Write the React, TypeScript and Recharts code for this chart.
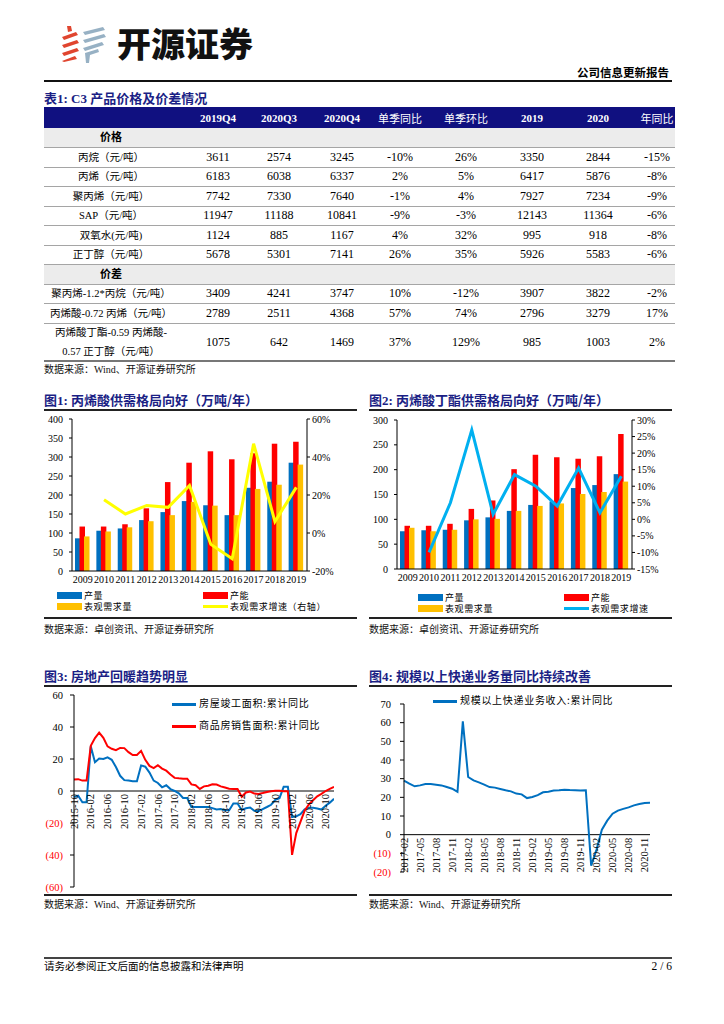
import React from 'react';
import { ComposedChart, Bar, Line, XAxis, YAxis, ReferenceLine } from 'recharts';

const SERIF = "'Liberation Serif', 'Times New Roman', 'Noto Sans CJK SC', serif";
const CJK = "'Noto Sans CJK SC', 'Noto Sans', sans-serif";
const NAVY = '#1b1f85';
const TABLE_HEAD = '#101080';
const BLUE = '#0070C0';
const RED = '#FF0000';
const ORANGE = '#FFC000';

// ---- 表1 ----
const tableHeaders = ['2019Q4', '2020Q3', '2020Q4', '单季同比', '单季环比', '2019', '2020', '年同比'];
const priceLabels = ['丙烷（元/吨）', '丙烯（元/吨）', '聚丙烯（元/吨）', 'SAP（元/吨）', '双氧水(元/吨)', '正丁醇（元/吨）'];
const priceValues = [
  ['3611', '2574', '3245', '-10%', '26%', '3350', '2844', '-15%'],
  ['6183', '6038', '6337', '2%', '5%', '6417', '5876', '-8%'],
  ['7742', '7330', '7640', '-1%', '4%', '7927', '7234', '-9%'],
  ['11947', '11188', '10841', '-9%', '-3%', '12143', '11364', '-6%'],
  ['1124', '885', '1167', '4%', '32%', '995', '918', '-8%'],
  ['5678', '5301', '7141', '26%', '35%', '5926', '5583', '-6%'],
];
const spreadLabels = ['聚丙烯-1.2*丙烷（元/吨）', '丙烯酸-0.72 丙烯（元/吨）', '丙烯酸丁酯-0.59 丙烯酸-\n0.57 正丁醇（元/吨）'];
const spreadValues = [
  ['3409', '4241', '3747', '10%', '-12%', '3907', '3822', '-2%'],
  ['2789', '2511', '4368', '57%', '74%', '2796', '3279', '17%'],
  ['1075', '642', '1469', '37%', '129%', '985', '1003', '2%'],
];

// ---- 图1 丙烯酸 ----
const years = ['2009', '2010', '2011', '2012', '2013', '2014', '2015', '2016', '2017', '2018', '2019'];
const aaOutput = [86, 106, 112, 134, 155, 184, 173, 147, 219, 235, 285];
const aaCapacity = [117, 117, 123, 165, 234, 285, 315, 294, 310, 335, 340];
const aaDemand = [91, 104, 115, 131, 147, 182, 172, 147, 216, 227, 280];
const aaGrowth = [null, 17.5, 10, 14.5, 13.5, 25, -6, -13.5, 47, 6, 24];

// ---- 图2 丙烯酸丁酯 ----
const baOutput = [76, 78, 79, 98, 104, 117, 129, 136, 163, 169, 191];
const baCapacity = [87, 87, 91, 121, 138, 201, 230, 225, 222, 227, 272];
const baDemand = [83, 76, 79, 100, 101, 117, 127, 132, 151, 155, 176];
const baGrowth = [null, -10, 5, 27, 1.5, 13.5, 10, 4, 15.5, 2, 13];

// ---- 图3 房地产 ----
const estateMonths = [
  '2015-10', '2015-11', '2015-12',
  '2016-01', '2016-02', '2016-03', '2016-04', '2016-05', '2016-06', '2016-07', '2016-08', '2016-09', '2016-10', '2016-11', '2016-12',
  '2017-01', '2017-02', '2017-03', '2017-04', '2017-05', '2017-06', '2017-07', '2017-08', '2017-09', '2017-10', '2017-11', '2017-12',
  '2018-01', '2018-02', '2018-03', '2018-04', '2018-05', '2018-06', '2018-07', '2018-08', '2018-09', '2018-10', '2018-11', '2018-12',
  '2019-01', '2019-02', '2019-03', '2019-04', '2019-05', '2019-06', '2019-07', '2019-08', '2019-09', '2019-10', '2019-11', '2019-12',
  '2020-01', '2020-02', '2020-03', '2020-04', '2020-05', '2020-06', '2020-07', '2020-08', '2020-09', '2020-10', '2020-11', '2020-12',
];
const completedArea = [
  -3.8, -3, -7,
  -7, 28, 18, 20.3, 20, 21, 19.5, 15, 9.5, 6.8, 6.5, 6.1,
  6.1, 16, 15.2, 11.5, 6.5, 5, 2.3, 3.6, 1.2, 0, -1.5, -4.4,
  -4.4, -10, -10, -10, -10, -10, -10.7, -11.5, -11.3, -12, -12, -7.8,
  -7.8, -11.9, -10.8, -10.3, -12.4, -12.7, -11.3, -10, -8.6, -5.5, -4.5, 2.6,
  2.6, -16.3, -15.8, -14.5, -11.5, -10.5, -10.5, -11, -11.6, -9.2, -7.3, -4.9,
];
const salesArea = [
  7.2, 7.4, 6.5,
  6.5, 28.2, 33.1, 36.5, 33.2, 27.9, 26.4, 25.5, 26.9, 26.8, 24.3, 22.5,
  22.5, 25.1, 19.5, 15.7, 14.3, 16.1, 14.0, 12.7, 10.3, 8.2, 7.9, 7.7,
  7.7, 4.1, 3.6, 1.3, 2.9, 3.3, 4.2, 4.0, 2.9, 2.2, 1.4, 1.3,
  1.3, -3.6, -0.9, -0.3, -1.6, -1.8, -1.3, -0.6, -0.1, 0.1, 0.2, -0.1,
  -0.1, -39.9, -26.3, -19.3, -12.3, -8.4, -5.8, -3.3, -1.8, 0.0, 1.3, 2.6,
];

// ---- 图4 快递 ----
const expressMonths = [
  '2017-02', '2017-03', '2017-04', '2017-05', '2017-06', '2017-07', '2017-08', '2017-09', '2017-10', '2017-11', '2017-12',
  '2018-01', '2018-02', '2018-03', '2018-04', '2018-05', '2018-06', '2018-07', '2018-08', '2018-09', '2018-10', '2018-11', '2018-12',
  '2019-01', '2019-02', '2019-03', '2019-04', '2019-05', '2019-06', '2019-07', '2019-08', '2019-09', '2019-10', '2019-11', '2019-12',
  '2020-01', '2020-02', '2020-03', '2020-04', '2020-05', '2020-06', '2020-07', '2020-08', '2020-09', '2020-10', '2020-11', '2020-12',
];
const expressRevenue = [
  28.9, 27.3, 25.9, 26.4, 27.1, 27.1, 26.8, 26.4, 25.5, 24.6, 22.9,
  60.7, 30.9, 29.1, 28, 26.8, 25.5, 25.2, 24.5, 23.8, 23.2, 22, 21.6,
  19.6, 20.2, 21.2, 22.7, 23, 23.6, 23.8, 24.1, 23.9, 23.8, 23.6, 23.8,
  -16.6, -8, 2.7, 7.5, 11.2, 12.9, 13.8, 14.6, 15.7, 16.4, 17, 17.1,
];

const aaData = years.map((y, i) => ({ year: y, output: aaOutput[i], capacity: aaCapacity[i], demand: aaDemand[i], growth: aaGrowth[i] }));
const baData = years.map((y, i) => ({ year: y, output: baOutput[i], capacity: baCapacity[i], demand: baDemand[i], growth: baGrowth[i] }));
const estateData = estateMonths.map((m, i) => ({ m, completed: completedArea[i], sales: salesArea[i] }));
const expressData = expressMonths.map((m, i) => ({ m, revenue: expressRevenue[i] }));

const colCenters = [218, 279, 342, 400, 466, 532, 598, 657];

const abs = (left: number, top: number, extra: React.CSSProperties = {}): React.CSSProperties => ({
  position: 'absolute',
  left,
  top,
  whiteSpace: 'nowrap',
  lineHeight: 1,
  ...extra,
});

const HLine = ({ x, y, w, h = 1, c = '#222' }: { x: number; y: number; w: number; h?: number; c?: string }) => (
  <div style={{ position: 'absolute', left: x, top: y, width: w, height: h, background: c }} />
);

const Title = ({ x, y, num, text }: { x: number; y: number; num: string; text: string }) => (
  <div style={abs(x, y, { fontSize: 13, fontWeight: 700, color: NAVY })}>
    <span style={{ fontFamily: SERIF }}>{num}</span>
    <span style={{ fontFamily: CJK }}>{text}</span>
  </div>
);

const Source = ({ x, y, text }: { x: number; y: number; text: string }) => (
  <div style={abs(x, y, { fontSize: 10, fontFamily: SERIF, color: '#111' })}>{text}</div>
);

const Cell = ({ cx, top, h, text, color = '#000', bold = false, size = 12 }: any) => (
  <div
    style={{
      position: 'absolute',
      left: cx - 40,
      top,
      width: 80,
      height: h,
      display: 'flex',
      alignItems: 'center',
      justifyContent: 'center',
      fontFamily: SERIF,
      fontSize: size,
      fontWeight: bold ? 700 : 400,
      color,
      whiteSpace: 'nowrap',
    }}
  >
    {text}
  </div>
);

const Label = ({ top, h, text, bold = false }: any) => (
  <div
    style={{
      position: 'absolute',
      left: 44,
      top,
      width: 134,
      height: h,
      display: 'flex',
      alignItems: 'center',
      justifyContent: 'center',
      textAlign: 'center',
      fontFamily: SERIF,
      fontSize: bold ? 11 : 10.5,
      fontWeight: bold ? 700 : 400,
      whiteSpace: 'pre',
      lineHeight: '19px',
    }}
  >
    {text}
  </div>
);

function PriceTable() {
  const rows: any[] = [];
  let top = 128;
  const RH = 19.5;
  rows.push({ top, h: RH, section: '价格' });
  top += RH;
  priceLabels.forEach((l, i) => {
    rows.push({ top, h: RH, label: l, values: priceValues[i] });
    top += RH;
  });
  rows.push({ top, h: RH, section: '价差' });
  top += RH;
  spreadLabels.forEach((l, i) => {
    const h = i === spreadLabels.length - 1 ? 38 : RH;
    rows.push({ top, h, label: l, values: spreadValues[i] });
    top += h;
  });
  return (
    <>
      <div style={{ position: 'absolute', left: 44, top: 107, width: 631, height: 21, background: TABLE_HEAD }} />
      {tableHeaders.map((t, i) => (
        <Cell key={t} cx={colCenters[i]} top={107} h={21} text={t} color="#fff" bold={i < 3 || i === 5 || i === 6} size={11} />
      ))}
      {rows.map((r, idx) => (
        <React.Fragment key={idx}>
          {r.section && <div style={{ position: 'absolute', left: 44, top: r.top, width: 631, height: r.h, background: '#ececec' }} />}
          {r.section ? (
            <Label top={r.top} h={r.h} text={r.section} bold />
          ) : (
            <>
              <Label top={r.top} h={r.h} text={r.label} />
              {r.values.map((v: string, j: number) => (
                <Cell key={j} cx={colCenters[j]} top={r.top} h={r.h} text={v} />
              ))}
            </>
          )}
          <HLine x={44} y={r.top + r.h - (idx === rows.length - 1 ? 1.5 : 0.5)} w={631} h={idx === rows.length - 1 ? 2 : 1} c={idx === rows.length - 1 ? '#777' : '#a5a5a5'} />
        </React.Fragment>
      ))}
    </>
  );
}

const axisTick = { fontSize: 10, fill: '#000', fontFamily: SERIF };

function BarLegend({ x, y, lineColor, labels }: { x: number; y: number; lineColor: string; labels: string[] }) {
  const txt: React.CSSProperties = { fontFamily: CJK, fontSize: 9, letterSpacing: 0.6, color: '#000' };
  const col2 = x + 146;
  return (
    <>
      <div style={{ position: 'absolute', left: x, top: y, width: 25, height: 7, background: BLUE }} />
      <div style={abs(x + 27, y - 1, txt)}>{labels[0]}</div>
      <div style={{ position: 'absolute', left: col2, top: y, width: 25, height: 7, background: RED }} />
      <div style={abs(col2 + 27, y - 1, txt)}>{labels[1]}</div>
      <div style={{ position: 'absolute', left: x, top: y + 11, width: 25, height: 7, background: ORANGE }} />
      <div style={abs(x + 27, y + 10, txt)}>{labels[2]}</div>
      <div style={{ position: 'absolute', left: col2, top: y + 13, width: 25, height: 3, background: lineColor }} />
      <div style={abs(col2 + 27, y + 10, txt)}>{labels[3]}</div>
    </>
  );
}

function SupplyChart({ data, left, top, height, mTop, leftMax, leftTicks, rightDomain, rightTicks, lineColor }: any) {
  return (
    <div style={{ position: 'absolute', left, top }}>
      <ComposedChart
        width={300}
        height={height}
        data={data}
        margin={{ top: mTop, right: 0, bottom: 6, left: 0 }}
        barGap={-1}
        barCategoryGap="16%"
      >
        <XAxis dataKey="year" interval={0} tickLine={false} axisLine={{ stroke: '#000' }} tick={axisTick} tickSize={4} tickMargin={1} height={18} />
        <YAxis yAxisId="l" domain={[0, leftMax]} ticks={leftTicks} interval={0} width={32} tick={axisTick} tickSize={3} tickMargin={6} axisLine={{ stroke: '#000' }} tickLine={{ stroke: '#000' }} />
        <YAxis
          yAxisId="r"
          orientation="right"
          domain={rightDomain}
          ticks={rightTicks}
          interval={0}
          width={33}
          tick={axisTick}
          tickSize={3}
          tickMargin={2}
          tickFormatter={(v: number) => `${v}%`}
          axisLine={{ stroke: '#000' }}
          tickLine={{ stroke: '#000' }}
        />
        <Bar yAxisId="l" dataKey="output" fill={BLUE} barSize={5.5} isAnimationActive={false} />
        <Bar yAxisId="l" dataKey="capacity" fill={RED} barSize={5.5} isAnimationActive={false} />
        <Bar yAxisId="l" dataKey="demand" fill={ORANGE} barSize={5.5} isAnimationActive={false} />
        <Line yAxisId="r" type="linear" dataKey="growth" stroke={lineColor} strokeWidth={3} dot={false} isAnimationActive={false} />
      </ComposedChart>
    </div>
  );
}

const ParenTick = (props: any) => {
  const { x, y, payload } = props;
  const v = payload.value;
  return (
    <text x={x} y={y} dy="0.35em" textAnchor="end" fontSize={10.5} fontFamily={SERIF} fill={v < 0 ? RED : '#000'}>
      {v < 0 ? `(${-v})` : v}
    </text>
  );
};

// month labels sit on the zero line, rotated
const makeZeroTick = (zeroY: number) => (props: any) => {
  const { x, payload } = props;
  const ty = zeroY + 3;
  return (
    <text x={x} y={ty} transform={`rotate(-90 ${x} ${ty})`} textAnchor="end" dy="0.35em" fontSize={10.5} fontFamily={SERIF} fill="#000">
      {payload.value}
    </text>
  );
};

function LineLegendItem({ x, y, color, text }: { x: number; y: number; color: string; text: string }) {
  return (
    <>
      <div style={{ position: 'absolute', left: x, top: y - 1, width: 24, height: 2.5, background: color }} />
      <div style={abs(x + 27, y - 6, { fontFamily: CJK, fontSize: 10, letterSpacing: 0.7, color: '#000' })}>{text}</div>
    </>
  );
}

function Logo() {
  return (
    <svg width={52} height={40} style={{ position: 'absolute', left: 58, top: 24 }} viewBox="0 0 52 40">
      <g fill="#e0452f">
        <polygon points="9,2 13,2 14,7 10,8" />
        <polygon points="4,13 18,8 20,11 6,16" />
        <polygon points="4,21 19,16 21,19 6,24" />
        <polygon points="4,29 19,24 21,27 6,32" />
        <polygon points="4,37 17,32 19,35 6,38" />
      </g>
      <g fill="#97b1c4">
        <polygon points="25,8 45,3 47,6 27,11" />
        <polygon points="25,16 46,10 48,13 27,19" />
        <polygon points="25,24 44,18 46,21 27,27" />
        <polygon points="27,29 40,25 41,28 32,31 31,39 28,39" />
      </g>
    </svg>
  );
}

export default function App() {
  return (
    <div style={{ position: 'absolute', left: 0, top: 0, width: 724, height: 1024, background: '#fff', fontFamily: SERIF, color: '#000', overflow: 'hidden' }}>
      {/* header */}
      <Logo />
      <div style={abs(117, 26, { fontFamily: CJK, fontSize: 34, fontWeight: 900, color: '#111' })}>开源证券</div>
      <div style={abs(577, 67, { fontFamily: CJK, fontSize: 11.5, fontWeight: 700 })}>公司信息更新报告</div>
      <HLine x={44} y={80} w={628} h={1.5} c="#111" />

      {/* table */}
      <Title x={44} y={91} num="表1: C3 " text="产品价格及价差情况" />
      <PriceTable />
      <Source x={44} y={365} text="数据来源：Wind、开源证券研究所" />

      {/* 图1 */}
      <Title x={44} y={393} num="图1: " text="丙烯酸供需格局向好（万吨/年）" />
      <HLine x={44} y={409} w={313} h={1.5} />
      <SupplyChart
        data={aaData}
        left={40}
        top={410}
        height={185}
        mTop={9}
        leftMax={400}
        leftTicks={[0, 50, 100, 150, 200, 250, 300, 350, 400]}
        rightDomain={[-20, 60]}
        rightTicks={[-20, 0, 20, 40, 60]}
        lineColor="#FFFF00"
      />
      <BarLegend x={57} y={592} lineColor="#FFFF00" labels={['产量', '产能', '表观需求量', '表观需求增速（右轴）']} />
      <HLine x={44} y={617} w={313} h={1.5} />
      <Source x={44} y={625} text="数据来源：卓创资讯、开源证券研究所" />

      {/* 图2 */}
      <Title x={369} y={393} num="图2: " text="丙烯酸丁酯供需格局向好（万吨/年）" />
      <HLine x={369} y={409} w={303} h={1.5} />
      <SupplyChart
        data={baData}
        left={365}
        top={410}
        height={183}
        mTop={10}
        leftMax={300}
        leftTicks={[0, 50, 100, 150, 200, 250, 300]}
        rightDomain={[-15, 30]}
        rightTicks={[-15, -10, -5, 0, 5, 10, 15, 20, 25, 30]}
        lineColor="#00B0F0"
      />
      <BarLegend x={418} y={594} lineColor="#00B0F0" labels={['产量', '产能', '表观需求量', '表观需求增速']} />
      <HLine x={369} y={617} w={303} h={1.5} />
      <Source x={369} y={625} text="数据来源：卓创资讯、开源证券研究所" />

      {/* 图3 */}
      <Title x={44} y={669} num="图3: " text="房地产回暖趋势明显" />
      <HLine x={44} y={685} w={313} h={1.5} />
      <div style={{ position: 'absolute', left: 40, top: 686 }}>
        <ComposedChart width={294} height={212} data={estateData} margin={{ top: 9, right: 0, bottom: 10, left: 0 }}>
          <XAxis dataKey="m" interval={3} axisLine={false} tickLine={false} height={1} tick={makeZeroTick(105)} />
          <YAxis domain={[-60, 60]} ticks={[-60, -40, -20, 0, 20, 40, 60]} interval={0} width={34} tick={<ParenTick />} tickSize={4} tickMargin={7} axisLine={{ stroke: '#000' }} tickLine={{ stroke: '#000' }} />
          <ReferenceLine y={0} stroke="#000" strokeWidth={1} />
          <Line type="linear" dataKey="completed" stroke={BLUE} strokeWidth={2} dot={false} isAnimationActive={false} />
          <Line type="linear" dataKey="sales" stroke={RED} strokeWidth={2} dot={false} isAnimationActive={false} />
        </ComposedChart>
      </div>
      <LineLegendItem x={172} y={704} color={BLUE} text="房屋竣工面积:累计同比" />
      <LineLegendItem x={172} y={726} color={RED} text="商品房销售面积:累计同比" />
      <HLine x={44} y={894} w={313} h={1.5} />
      <Source x={44} y={900} text="数据来源：Wind、开源证券研究所" />

      {/* 图4 */}
      <Title x={369} y={669} num="图4: " text="规模以上快递业务量同比持续改善" />
      <HLine x={369} y={685} w={303} h={1.5} />
      <div style={{ position: 'absolute', left: 365, top: 690 }}>
        <ComposedChart width={285} height={193} data={expressData} margin={{ top: 14, right: 0, bottom: 10, left: 0 }}>
          <XAxis dataKey="m" interval={2} axisLine={false} tickLine={false} height={1} tick={makeZeroTick(14 + (168 * 70) / 90)} />
          <YAxis domain={[-20, 70]} ticks={[-20, -10, 0, 10, 20, 30, 40, 50, 60, 70]} interval={0} width={39} tick={<ParenTick />} tickSize={4} tickMargin={9} axisLine={{ stroke: '#000' }} tickLine={{ stroke: '#000' }} />
          <ReferenceLine y={0} stroke="#000" strokeWidth={1} />
          <Line type="linear" dataKey="revenue" stroke={BLUE} strokeWidth={2} dot={false} isAnimationActive={false} />
        </ComposedChart>
      </div>
      <LineLegendItem x={433} y={701} color={BLUE} text="规模以上快递业务收入:累计同比" />
      <HLine x={369} y={894} w={303} h={1.5} />
      <Source x={369} y={900} text="数据来源：Wind、开源证券研究所" />

      {/* footer */}
      <HLine x={44} y={957} w={628} h={1.5} c="#444" />
      <div style={abs(44, 961, { fontFamily: CJK, fontSize: 10.5 })}>请务必参阅正文后面的信息披露和法律声明</div>
      <div style={abs(640, 961, { fontFamily: SERIF, fontSize: 11.5, width: 32, textAlign: 'right' })}>2 / 6</div>
    </div>
  );
}
